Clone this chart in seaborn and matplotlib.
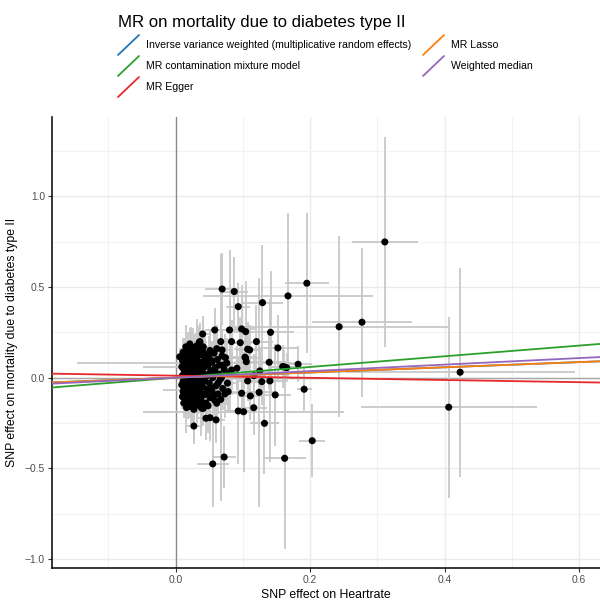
import matplotlib
matplotlib.use("Agg")
import matplotlib.pyplot as plt
import seaborn as sns
import pandas as pd
from matplotlib.lines import Line2D
from matplotlib.ticker import MultipleLocator

# ---------------- data ----------------
snp_beta_exposure = [
    0.311, 0.195, 0.167, 0.243, 0.277, 0.423, 0.406, 0.203, 0.162, 0.191,
    0.182, 0.161, 0.165, 0.027, 0.055, 0.072, 0.132, 0.069, 0.087, 0.093,
    0.058, 0.080, 0.098, 0.040, 0.104, 0.067, 0.083, 0.096, 0.035, 0.069,
    0.107, 0.129, 0.141, 0.120, 0.152, 0.110, 0.103, 0.104, 0.105, 0.139,
    0.159, 0.125, 0.116, 0.107, 0.128, 0.140, 0.098, 0.111, 0.124, 0.148,
    0.116, 0.101, 0.045, 0.051, 0.041, 0.061, 0.078, 0.093, 0.071, 0.083,
    0.091, 0.006, 0.021, 0.036, 0.060, 0.020, 0.026, 0.011, 0.039, 0.015,
    0.012, 0.014,
    0.010, 0.011, 0.012, 0.012, 0.013, 0.013, 0.014, 0.014, 0.015, 0.015,
    0.016, 0.016, 0.017, 0.017, 0.018, 0.018, 0.019, 0.019, 0.020, 0.020,
    0.021, 0.021, 0.022, 0.022, 0.023, 0.023, 0.024, 0.024, 0.025, 0.025,
    0.026, 0.026, 0.027, 0.027, 0.028, 0.028, 0.029, 0.030, 0.030, 0.031,
    0.031, 0.032, 0.033, 0.033, 0.034, 0.035, 0.035, 0.036, 0.037, 0.037,
    0.038, 0.039, 0.040, 0.040, 0.041, 0.042, 0.043, 0.043, 0.044, 0.045,
    0.046, 0.047, 0.048, 0.049, 0.050, 0.051, 0.052, 0.053, 0.054, 0.055,
    0.057, 0.058, 0.059, 0.060, 0.062, 0.063, 0.064, 0.066, 0.068, 0.070,
    0.072, 0.074, 0.077, 0.080,
    0.009, 0.009, 0.010, 0.010, 0.011, 0.012, 0.013, 0.014, 0.015, 0.016,
    0.017, 0.018, 0.019, 0.020, 0.021, 0.022, 0.023, 0.024, 0.025, 0.026,
    0.027, 0.028, 0.029, 0.030, 0.031, 0.032, 0.033, 0.034, 0.035, 0.036,
    0.037, 0.038, 0.039, 0.041, 0.042, 0.044, 0.045, 0.046, 0.048, 0.049,
    0.051, 0.052, 0.054, 0.056, 0.058, 0.061, 0.063, 0.065, 0.067, 0.069,
    0.073, 0.076,
]
snp_beta_outcome = [
    0.749, 0.521, 0.451, 0.281, 0.306, 0.030, -0.163, -0.348, -0.445, -0.064,
    0.074, 0.060, 0.055, -0.267, -0.476, -0.438, -0.252, 0.489, 0.475, 0.392,
    0.263, 0.263, 0.269, 0.241, 0.254, 0.199, 0.199, 0.193, 0.195, 0.153,
    0.157, 0.414, 0.250, 0.199, 0.164, 0.153, 0.113, 0.107, 0.088, 0.085,
    0.061, 0.037, 0.011, -0.018, -0.022, -0.018, -0.086, -0.101, -0.081, -0.095,
    -0.166, -0.188, -0.224, -0.221, -0.169, -0.141, -0.077, -0.184, 0.070, 0.042,
    0.052, 0.115, 0.186, 0.199, -0.233, -0.145, -0.160, -0.077, -0.169, 0.083,
    0.060, -0.068,
    0.012, -0.020, 0.045, -0.055, 0.080, -0.090, 0.005, 0.130, -0.120, 0.030,
    -0.035, 0.100, -0.070, 0.060, -0.005, 0.150, -0.140, 0.020, -0.100, 0.090,
    -0.045, 0.040, 0.120, -0.015, -0.160, 0.070, 0.000, -0.080, 0.165, 0.035,
    -0.120, 0.095, -0.040, 0.015, 0.140, -0.095, 0.055, -0.060, 0.110, -0.010,
    -0.150, 0.075, 0.025, -0.110, 0.160, -0.030, 0.045, -0.075, 0.125, 0.005,
    -0.130, 0.085, -0.050, 0.030, 0.140, -0.095, 0.060, -0.015, 0.105, -0.140,
    0.010, -0.065, 0.070, 0.120, -0.030, -0.110, 0.040, 0.095, -0.075, 0.000,
    0.135, -0.125, 0.055, -0.045, 0.100, -0.090, 0.020, -0.010, 0.000, -0.060,
    0.045, 0.110, -0.030, 0.025,
    0.060, -0.040, 0.095, -0.105, 0.140, -0.140, 0.025, -0.030, 0.170, -0.165,
    0.110, -0.110, 0.070, -0.060, 0.005, 0.150, -0.130, 0.100, -0.025, 0.055,
    -0.175, 0.120, -0.070, 0.010, 0.175, -0.120, 0.090, -0.050, 0.135, 0.020,
    -0.160, 0.060, -0.100, 0.170, -0.020, 0.125, -0.085, 0.075, -0.155, 0.020,
    0.150, -0.055, 0.085, -0.100, 0.030, 0.160, -0.030, 0.070, -0.120, 0.120,
    -0.090, 0.080,
]
snp_se_exposure = [
    0.049, 0.033, 0.127, 0.162, 0.075, 0.171, 0.131, 0.019, 0.032, 0.011,
    0.020, 0.020, 0.015, 0.010, 0.024, 0.018, 0.021, 0.025, 0.020, 0.018,
    0.015, 0.018, 0.020, 0.012, 0.022, 0.015, 0.016, 0.018, 0.010, 0.014,
    0.020, 0.030, 0.035, 0.025, 0.030, 0.020, 0.018, 0.018, 0.017, 0.025,
    0.022, 0.020, 0.018, 0.016, 0.020, 0.022, 0.016, 0.018, 0.020, 0.024,
    0.020, 0.150, 0.012, 0.012, 0.010, 0.013, 0.015, 0.018, 0.014, 0.015,
    0.016, 0.003, 0.008, 0.010, 0.014, 0.007, 0.008, 0.004, 0.010, 0.162,
    0.060, 0.033,
    0.004, 0.004, 0.005, 0.004, 0.005, 0.005, 0.004, 0.006, 0.005, 0.004,
    0.005, 0.006, 0.005, 0.005, 0.004, 0.007, 0.006, 0.005, 0.005, 0.006,
    0.005, 0.005, 0.006, 0.005, 0.006, 0.006, 0.005, 0.006, 0.007, 0.005,
    0.006, 0.006, 0.006, 0.005, 0.007, 0.006, 0.006, 0.006, 0.007, 0.006,
    0.007, 0.007, 0.006, 0.007, 0.008, 0.006, 0.007, 0.007, 0.008, 0.006,
    0.008, 0.008, 0.007, 0.007, 0.008, 0.008, 0.008, 0.007, 0.008, 0.009,
    0.008, 0.008, 0.009, 0.009, 0.008, 0.009, 0.009, 0.009, 0.009, 0.009,
    0.010, 0.010, 0.010, 0.010, 0.010, 0.010, 0.010, 0.010, 0.012, 0.011,
    0.011, 0.012, 0.012, 0.013,
    0.004, 0.004, 0.004, 0.004, 0.005, 0.005, 0.004, 0.004, 0.006, 0.006,
    0.005, 0.005, 0.005, 0.005, 0.005, 0.006, 0.006, 0.006, 0.005, 0.006,
    0.007, 0.007, 0.006, 0.006, 0.008, 0.007, 0.007, 0.007, 0.008, 0.007,
    0.008, 0.008, 0.008, 0.009, 0.008, 0.009, 0.009, 0.009, 0.010, 0.009,
    0.010, 0.010, 0.010, 0.010, 0.010, 0.011, 0.011, 0.011, 0.012, 0.012,
    0.012, 0.013,
]
snp_se_outcome = [
    0.580, 0.387, 0.460, 0.500, 0.410, 0.577, 0.500, 0.200, 0.500, 0.120,
    0.100, 0.090, 0.080, 0.100, 0.240, 0.170, 0.280, 0.200, 0.190, 0.130,
    0.120, 0.440, 0.240, 0.100, 0.280, 0.100, 0.120, 0.140, 0.090, 0.110,
    0.150, 0.320, 0.340, 0.200, 0.180, 0.140, 0.120, 0.120, 0.110, 0.150,
    0.120, 0.130, 0.120, 0.110, 0.130, 0.450, 0.120, 0.130, 0.630, 0.280,
    0.150, 0.330, 0.120, 0.130, 0.100, 0.110, 0.120, 0.290, 0.100, 0.110,
    0.120, 0.050, 0.090, 0.100, 0.130, 0.080, 0.090, 0.050, 0.100, 0.060,
    0.050, 0.060,
    0.05, 0.06, 0.07, 0.06, 0.08, 0.07, 0.05, 0.09, 0.08, 0.05,
    0.06, 0.08, 0.07, 0.06, 0.05, 0.10, 0.09, 0.05, 0.07, 0.07,
    0.06, 0.06, 0.09, 0.05, 0.10, 0.07, 0.06, 0.07, 0.11, 0.06,
    0.08, 0.08, 0.07, 0.06, 0.10, 0.08, 0.07, 0.07, 0.09, 0.06,
    0.10, 0.08, 0.07, 0.09, 0.11, 0.07, 0.08, 0.08, 0.10, 0.07,
    0.10, 0.09, 0.08, 0.07, 0.11, 0.09, 0.08, 0.07, 0.10, 0.11,
    0.08, 0.09, 0.09, 0.11, 0.09, 0.10, 0.09, 0.10, 0.10, 0.09,
    0.12, 0.11, 0.10, 0.10, 0.11, 0.11, 0.10, 0.10, 0.68, 0.12,
    0.11, 0.13, 0.12, 0.13,
    0.06, 0.06, 0.07, 0.07, 0.08, 0.08, 0.05, 0.06, 0.12, 0.14,
    0.08, 0.08, 0.07, 0.07, 0.06, 0.13, 0.09, 0.08, 0.06, 0.07,
    0.17, 0.09, 0.08, 0.07, 0.15, 0.09, 0.09, 0.08, 0.10, 0.08,
    0.16, 0.09, 0.10, 0.14, 0.09, 0.11, 0.10, 0.10, 0.15, 0.10,
    0.12, 0.11, 0.11, 0.12, 0.11, 0.13, 0.12, 0.12, 0.13, 0.13,
    0.13, 0.14,
]

methods = [
    "Inverse variance weighted (multiplicative random effects)",
    "MR contamination mixture model",
    "MR Egger",
    "MR Lasso",
    "Weighted median",
]
method_slopes = [0.143, 0.295, -0.060, 0.143, 0.180]
method_intercepts = [0.0, 0.0, 0.011, 0.0, 0.0]

palette = ["#1F77B4", "#2CA02C", "#E8282B", "#FF7F0E", "#9467BD"]

legend_title = "MR on mortality due to diabetes type II"
x_label = "SNP effect on Heartrate"
y_label = "SNP effect on mortality due to diabetes type II"

# ---------------- figure ----------------
sns.set_theme(style="whitegrid")
plt.rcParams["font.family"] = ["Liberation Sans", "DejaVu Sans"]

W, H = 600, 603
fig = plt.figure(figsize=(W / 100, H / 100), dpi=100)
ax = fig.add_axes([52 / W, 1 - 568.3 / H, (600 - 52) / W, (568.3 - 116.7) / H])

df = pd.DataFrame({
    "bx": snp_beta_exposure, "by": snp_beta_outcome,
    "sx": snp_se_exposure, "sy": snp_se_outcome,
})

ax.set_xlim(-0.184, 0.631)
ax.set_ylim(-1.052, 1.44)

ax.axvline(0, color="#8C8C8C", lw=1.0, zorder=1)
ax.axhline(0, color="#A8A8A8", lw=1.0, zorder=1)

ax.errorbar(df["bx"], df["by"], yerr=df["sy"], fmt="none",
            ecolor="#C8C8C8", elinewidth=1.3, capsize=0, zorder=2)
ax.errorbar(df["bx"], df["by"], xerr=df["sx"], fmt="none",
            ecolor="#C8C8C8", elinewidth=1.3, capsize=0, zorder=2)
sns.scatterplot(data=df, x="bx", y="by", ax=ax, color="black", s=26,
                edgecolor="none", linewidth=0, zorder=3, legend=False)

for m, b, a, c in zip(methods, method_slopes, method_intercepts, palette):
    ax.axline((0, a), slope=b, color=c, lw=1.3, zorder=4)

# grid & axes styling
ax.xaxis.set_major_locator(MultipleLocator(0.2))
ax.xaxis.set_minor_locator(MultipleLocator(0.1))
ax.yaxis.set_major_locator(MultipleLocator(0.5))
ax.yaxis.set_minor_locator(MultipleLocator(0.25))
ax.grid(which="major", color="#EBEBEB", lw=1.0)
ax.grid(which="minor", color="#F2F2F2", lw=0.8)
ax.set_axisbelow(True)
ax.set_facecolor("white")
for side in ["top", "right"]:
    ax.spines[side].set_visible(False)
for side in ["left", "bottom"]:
    ax.spines[side].set_visible(True)
    ax.spines[side].set_color("black")
    ax.spines[side].set_linewidth(1.1)
ax.tick_params(axis="both", which="major", length=3, width=0.8, color="#333333",
               labelsize=7.4, labelcolor="#4D4D4D", pad=2, direction="out")
ax.tick_params(axis="both", which="minor", length=0)
ax.tick_params(axis="x", bottom=True)
ax.tick_params(axis="y", left=True)

ax.set_xlabel(x_label, fontsize=8.8, color="black", labelpad=3)
ax.set_ylabel(y_label, fontsize=8.8, color="black", labelpad=5)

# legend (manual, figure pixel coords)
def fx(p):
    return p / W

def fy(p):
    return 1 - p / H

fig.text(fx(118), fy(27), legend_title, fontsize=12.1, color="black",
         ha="left", va="baseline")
positions = [(118, 45), (118, 66), (118, 87), (423, 45), (423, 66)]
for (px, py), m, c in zip(positions, methods, palette):
    fig.add_artist(Line2D([fx(px), fx(px + 21)], [fy(py + 10), fy(py - 10)],
                          color=c, lw=1.3, transform=fig.transFigure))
    fig.text(fx(px + 28), fy(py), m, fontsize=7.6, color="black",
             ha="left", va="center")

fig.savefig("out.png", dpi=100)
